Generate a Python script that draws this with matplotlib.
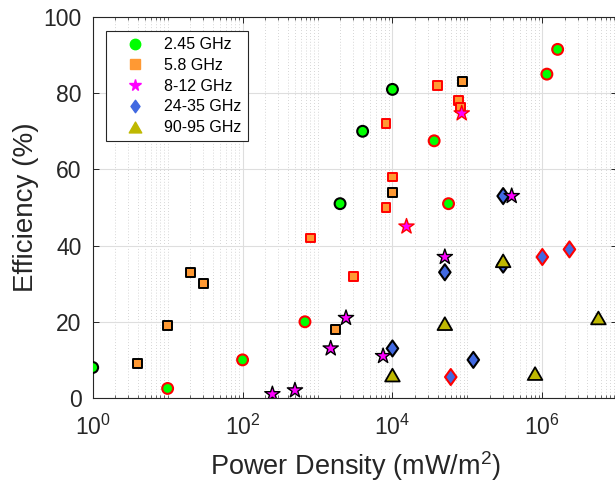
import numpy as np
import matplotlib
matplotlib.use("Agg")
import matplotlib.pyplot as plt
from matplotlib.path import Path
from matplotlib.lines import Line2D
from matplotlib.ticker import LogLocator, NullFormatter

plt.rcParams['font.family'] = ['Liberation Sans', 'DejaVu Sans']
plt.rcParams['mathtext.fontset'] = 'custom'
plt.rcParams['mathtext.rm'] = 'Liberation Sans'
plt.rcParams['mathtext.it'] = 'Liberation Sans:italic'
plt.rcParams['mathtext.default'] = 'regular'

# data: x = power density (mW/m^2), y = efficiency (%), edge colour
x_245 = [1, 2000, 4000, 1e4, 10, 100, 680, 3.6e4, 5.6e4, 1.15e6, 1.6e6]
y_245 = [8, 51, 70, 81, 2.5, 10, 20, 67.5, 51, 85, 91.5]
e_245 = ['k', 'k', 'k', 'k', 'r', 'r', 'r', 'r', 'r', 'r', 'r']

x_58 = [4, 10, 20, 30, 1750, 1e4, 8.6e4, 800, 3000, 8200, 8200, 1e4, 4e4, 7.6e4, 8.2e4]
y_58 = [9, 19, 33, 30, 18, 54, 83, 42, 32, 72, 50, 58, 82, 78, 76.3]
e_58 = ['k', 'k', 'k', 'k', 'k', 'k', 'k', 'r', 'r', 'r', 'r', 'r', 'r', 'r', 'r']

x_812 = [250, 500, 1500, 2400, 7500, 5e4, 3.9e5, 1.54e4, 8.4e4]
y_812 = [1, 2, 13, 21, 11, 37, 53, 45, 74.7]
e_812 = ['k', 'k', 'k', 'k', 'k', 'k', 'k', 'r', 'r']

x_2435 = [1e4, 5e4, 1.2e5, 3e5, 3e5, 6e4, 1e6, 2.3e6]
y_2435 = [13, 33, 10, 35, 53, 5.5, 37, 39]
e_2435 = ['k', 'k', 'k', 'k', 'k', 'r', 'r', 'r']

x_9095 = [1e4, 5e4, 3e5, 8e5, 5.6e6]
y_9095 = [6, 19.5, 36, 6.4, 21]
e_9095 = ['k', 'k', 'k', 'k', 'k']

labels = ['2.45 GHz', '5.8 GHz', '8-12 GHz', '24-35 GHz', '90-95 GHz']
x_ticks = [1, 1e2, 1e4, 1e6]
x_ticklabels = ['$10^{0}$', '$10^{2}$', '$10^{4}$', '$10^{6}$']
y_ticks = [0, 20, 40, 60, 80, 100]

c_green = '#00FF00'
c_orange = '#FF9933'
c_magenta = '#FF00FF'
c_blue = '#4169E1'
c_olive = '#BFB800'
c_edge = {'k': 'black', 'r': '#FF0000'}
gray = '#262626'

diamond = Path([(0, 1), (0.72, 0), (0, -1), (-0.72, 0), (0, 1)],
               [Path.MOVETO, Path.LINETO, Path.LINETO, Path.LINETO, Path.CLOSEPOLY])
triangle = Path([(0, 0.8), (0.92, -0.8), (-0.92, -0.8), (0, 0.8)],
                [Path.MOVETO, Path.LINETO, Path.LINETO, Path.CLOSEPOLY])

fig = plt.figure(figsize=(6.15, 4.87), dpi=100)
ax = fig.add_axes([0.1507, 0.1828, 0.853, 0.7823])

series = [
    (x_245, y_245, e_245, c_green, 'o', 7.8, 1.5),
    (x_58, y_58, e_58, c_orange, 's', 6.4, 1.4),
    (x_2435, y_2435, e_2435, c_blue, diamond, 11.5, 1.5),
    (x_812, y_812, e_812, c_magenta, '*', 11.5, 1.0),
    (x_9095, y_9095, e_9095, c_olive, triangle, 10.5, 1.3),
]
for xs, ys, es, fc, mk, ms, lw in series:
    ax.scatter(xs, ys, s=ms ** 2, marker=mk, c=fc,
               edgecolors=[c_edge[e] for e in es], linewidths=lw, zorder=3)

ax.set_xscale('log')
ax.set_xlim(1, 1e7)
ax.set_ylim(0, 100)
ax.set_yticks(y_ticks)
ax.set_xticks(x_ticks)
ax.set_xticklabels(x_ticklabels)
ax.xaxis.set_minor_locator(LogLocator(base=10, subs=np.arange(1, 10), numticks=50))
ax.xaxis.set_minor_formatter(NullFormatter())

ax.grid(True, which='major', color='#DEDEDE', linewidth=0.8, linestyle='-', zorder=0)
ax.grid(True, which='minor', axis='x', color='#C8C8C8', linewidth=0.6,
        linestyle=(0, (1, 2.5)), zorder=0)
ax.set_axisbelow(True)

ax.tick_params(which='both', direction='in', top=True, right=True, colors=gray,
               labelsize=16.5)
ax.tick_params(which='major', length=4, width=0.7)
ax.tick_params(which='minor', length=2.2, width=0.5)
ax.tick_params(axis='x', pad=12)
ax.tick_params(axis='y', pad=8)
for sp in ax.spines.values():
    sp.set_color(gray)
    sp.set_linewidth(0.8)

ax.set_xlabel('Power Density (mW/m$^2$)', fontsize=19.5, color=gray, labelpad=7)
ax.set_ylabel('Efficiency (%)', fontsize=20, color=gray, labelpad=3)

handles = [
    Line2D([], [], ls='none', marker='o', ms=7.5, mfc=c_green, mec=c_green),
    Line2D([], [], ls='none', marker='s', ms=6.5, mfc=c_orange, mec=c_orange),
    Line2D([], [], ls='none', marker='*', ms=8.5, mfc=c_magenta, mec=c_magenta),
    Line2D([], [], ls='none', marker=diamond, ms=9, mfc=c_blue, mec=c_blue),
    Line2D([], [], ls='none', marker=triangle, ms=9, mfc=c_olive, mec=c_olive),
]
leg = ax.legend(handles, labels, loc='upper left', bbox_to_anchor=(0.0248, 0.964),
                borderaxespad=0, fontsize=11.5, frameon=True, fancybox=False,
                handlelength=2.9, handletextpad=0.35, labelspacing=0.36,
                borderpad=0.4)
leg.get_frame().set_edgecolor(gray)
leg.get_frame().set_linewidth(0.8)
leg.get_frame().set_facecolor('white')
leg.get_frame().set_alpha(1)
for t in leg.get_texts():
    t.set_color('black')

fig.savefig('out.png', dpi=100)
